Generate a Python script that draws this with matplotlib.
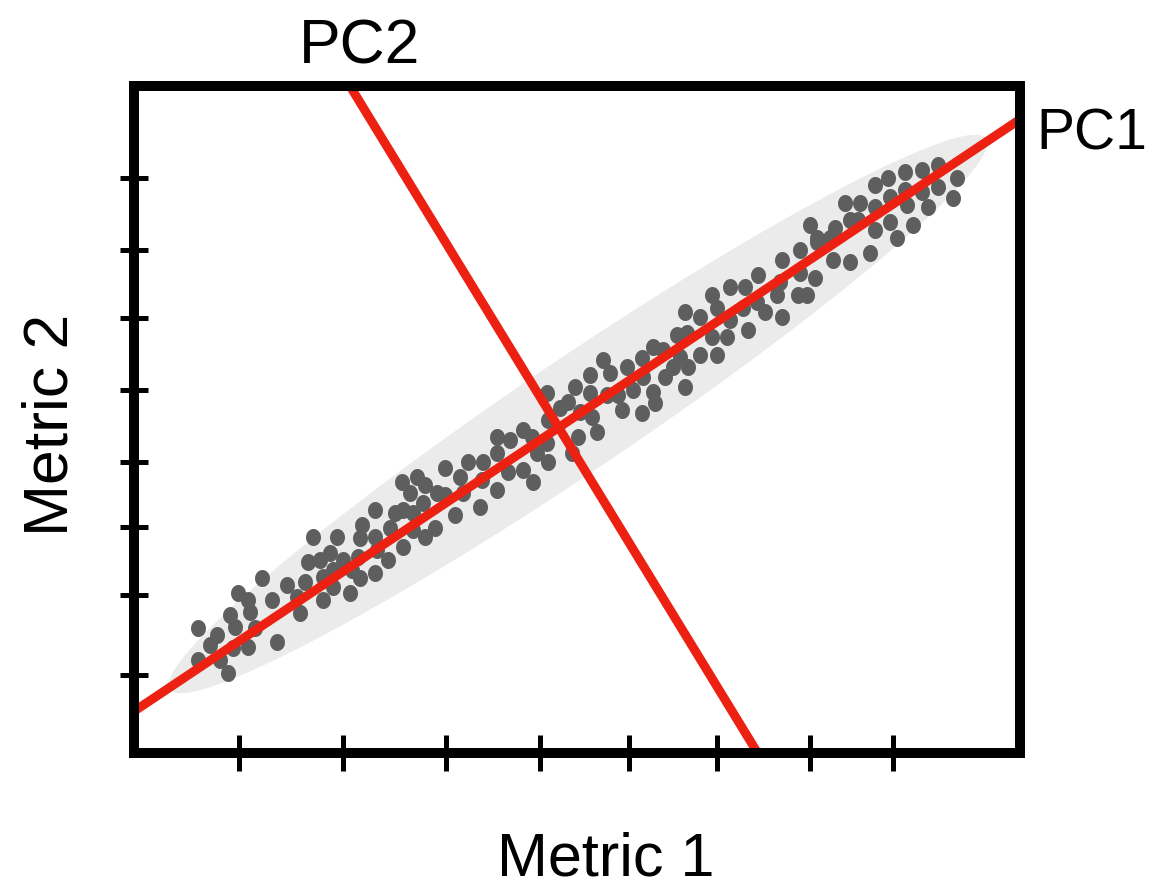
import numpy as np
import matplotlib
matplotlib.use("Agg")
import matplotlib.pyplot as plt
from matplotlib.patches import Ellipse
from matplotlib.path import Path

plt.rcParams['font.family'] = ['Liberation Sans', 'DejaVu Sans']

# ---- data (in plot units; y grows downward) ----
pts_x = [402, 417, 425, 410, 375, 395, 403, 413, 423, 437, 413, 425, 435, 362, 360, 375, 390, 403,
         313, 337, 330, 308, 320, 343, 358, 377, 388, 375, 360, 352, 333, 323, 333, 350, 323, 262,
         287, 305, 297, 300, 272, 277, 238, 248, 250, 230, 235, 255, 248, 233, 198, 217, 210, 198,
         220, 228,
         603, 610, 590, 575, 568, 547, 548, 560, 590, 580, 592, 597, 578, 572, 627, 642, 653, 643,
         633, 622, 642, 653, 655, 618, 607, 523, 532, 510, 497, 497, 537, 547, 548, 523, 533, 508,
         483, 468, 460, 445, 482, 497, 463, 445, 480, 455,
         800, 817, 833, 850, 782, 800, 815, 758, 780, 730, 745, 712, 717, 743, 757, 765, 777, 798,
         807, 782, 730, 748, 727, 712, 685, 700, 677, 687, 700, 717, 688, 680, 673, 665, 685, 663,
         938, 922, 905, 888, 875, 957, 953, 938, 922, 905, 890, 907, 928, 875, 860, 845, 850, 858,
         835, 810, 817, 830, 875, 890, 913, 897, 870]
pts_y = [482, 477, 485, 493, 510, 513, 510, 513, 503, 493, 530, 537, 528, 525, 538, 537, 528, 547,
         537, 537, 553, 562, 560, 560, 557, 550, 560, 573, 578, 570, 570, 577, 587, 593, 600, 578,
         585, 582, 597, 613, 600, 642, 593, 600, 612, 615, 627, 628, 647, 648, 628, 635, 645, 660,
         660, 673,
         360, 373, 375, 387, 402, 393, 420, 408, 393, 412, 417, 432, 437, 453, 367, 358, 347, 377,
         390, 410, 413, 392, 403, 395, 395, 430, 437, 440, 437, 453, 453, 443, 462, 470, 482, 472,
         462, 462, 477, 468, 480, 490, 493, 495, 507, 515,
         250, 242, 260, 262, 260, 273, 278, 275, 282, 287, 287, 295, 308, 308, 302, 312, 295, 295,
         295, 317, 320, 330, 337, 337, 312, 317, 335, 333, 355, 355, 367, 357, 367, 377, 387, 350,
         165, 170, 172, 178, 185, 178, 198, 187, 192, 190, 197, 205, 207, 207, 203, 203, 220, 220,
         228, 225, 238, 238, 230, 222, 225, 238, 253]

pc1_x = [134, 1020]
pc1_y = [711.3, 119.3]
pc2_x = [350, 757]
pc2_y = [86, 752]

cloud_center = (578, 414)
cloud_length = 985
cloud_width = 112
cloud_angle = -34

xticks = [239, 343, 446, 540, 629, 717, 810, 893]
yticks = [178, 250, 318, 390, 462, 527, 595, 675]
x_limits = (134, 1020)
y_limits = (753, 86)

# ---- figure ----
W, H = 1156, 889
fig = plt.figure(figsize=(W / 100, H / 100), dpi=100)
ax = fig.add_axes([134 / W, (H - 753) / H, (1020 - 134) / W, (753 - 86) / H])
ax.set_xlim(*x_limits)
ax.set_ylim(*y_limits)

ax.add_patch(Ellipse(cloud_center, cloud_length, cloud_width, angle=cloud_angle,
                     facecolor='#EBEBEB', edgecolor='none', zorder=1))

t = np.linspace(0, 2 * np.pi, 60)
marker = Path(np.column_stack([0.88 * np.cos(t), np.sin(t)]))
ax.scatter(pts_x, pts_y, s=150, marker=marker, color='#5E5E5E', linewidths=0, zorder=2)

red = '#ED2112'
ax.plot(pc1_x, pc1_y, color=red, lw=6.5, solid_capstyle='butt', zorder=3)
ax.plot(pc2_x, pc2_y, color=red, lw=6.5, solid_capstyle='butt', zorder=3)

for s in ax.spines.values():
    s.set_linewidth(7.2)
    s.set_capstyle('projecting')
    s.set_zorder(5)

ax.set_xticks(xticks)
ax.set_yticks(yticks)
ax.set_xticklabels([])
ax.set_yticklabels([])
ax.tick_params(axis='x', direction='inout', length=26, width=3.6, color='black')
ax.tick_params(axis='y', direction='inout', length=20, width=3.6, color='black')

fs = 45
fig.text(360 / W, (H - 63) / H, 'PC2', fontsize=fs, ha='center', va='baseline')
fig.text(1036 / W, (H - 150) / H, 'PC1', fontsize=41, ha='left', va='baseline')
fig.text(606 / W, (H - 875) / H, 'Metric 1', fontsize=44, ha='center', va='baseline')
fig.text(67 / W, (H - 425) / H, 'Metric 2', fontsize=fs, ha='center', va='baseline',
         rotation=90, rotation_mode='anchor')

fig.savefig('out.png', dpi=100)
